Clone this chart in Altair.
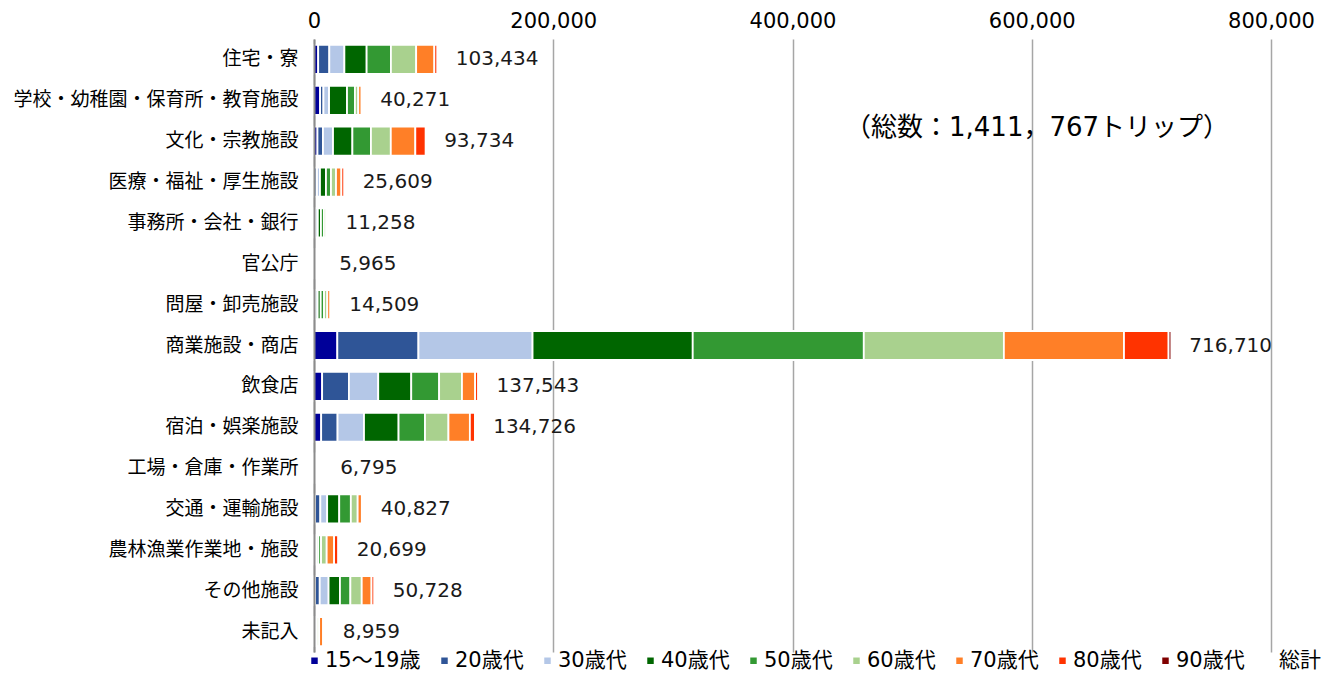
import altair as alt
import pandas as pd

categories = [
    "住宅・寮", "学校・幼稚園・保育所・教育施設", "文化・宗教施設", "医療・福祉・厚生施設",
    "事務所・会社・銀行", "官公庁", "問屋・卸売施設", "商業施設・商店", "飲食店",
    "宿泊・娯楽施設", "工場・倉庫・作業所", "交通・運輸施設", "農林漁業作業地・施設",
    "その他施設", "未記入",
]
age_groups = ["15～19歳", "20歳代", "30歳代", "40歳代", "50歳代", "60歳代", "70歳代", "80歳代", "90歳代"]

s15 = [3500, 5100, 2900, 500, 200, 200, 300, 19500, 6800, 6000, 100, 900, 200, 900, 100]
s20 = [9300, 2800, 4600, 2000, 1200, 500, 1000, 67800, 22400, 13700, 700, 4400, 700, 3900, 300]
s30 = [12600, 4700, 8400, 2500, 1800, 700, 1800, 95400, 24500, 22100, 1000, 5700, 1100, 7400, 400]
s40 = [18600, 15000, 16200, 5000, 2600, 1100, 2500, 133900, 27600, 28900, 1500, 10100, 1600, 9500, 700]
s50 = [20300, 6600, 15500, 4200, 2500, 1200, 2800, 143000, 23300, 22100, 1500, 9700, 2300, 8700, 1000]
s60 = [21100, 2800, 16600, 4200, 1900, 1000, 2700, 117100, 19100, 19600, 1100, 5700, 4700, 9500, 1800]
s70 = [15200, 2800, 20500, 4500, 800, 900, 2600, 100400, 11000, 17900, 650, 3500, 6200, 8200, 3300]
s80 = [2600, 400, 8700, 2500, 200, 300, 700, 37300, 2543, 4300, 200, 800, 3500, 2400, 1200]
s90 = [234, 71, 334, 209, 58, 65, 109, 2310, 300, 126, 45, 27, 399, 228, 159]
series = [s15, s20, s30, s40, s50, s60, s70, s80, s90]

totals = [103434, 40271, 93734, 25609, 11258, 5965, 14509, 716710, 137543, 134726, 6795, 40827, 20699, 50728, 8959]
x_ticks = [0, 200000, 400000, 600000, 800000]
note_text = ["（総数：1,411，767トリップ）"]

colors = ["#000099", "#2F5597", "#B4C7E7", "#006600", "#339933", "#A9D18E", "#FF7F27", "#FF3300", "#800000"]

rows = []
for gi, (g, vals) in enumerate(zip(age_groups, series)):
    for c, v in zip(categories, vals):
        rows.append({"施設": c, "年齢": g, "順": gi, "トリップ数": v})
df = pd.DataFrame(rows)
tot_df = pd.DataFrame({"施設": categories, "総計": totals})
note_df = pd.DataFrame({"t": note_text})

FONT = "DejaVu Sans, Noto Sans CJK JP"

x_scale = alt.Scale(domain=[0, 800000], nice=False)
x_axis = alt.Axis(orient="top", values=x_ticks, labelExpr="format(datum.value, ',')",
                  ticks=False, domain=False, labelFlush=False,
                  labelFontSize=21, labelFont=FONT, labelColor="#000", labelPadding=8,
                  gridColor="#a6a6a6", gridWidth=1.5, title=None)
y_enc = alt.Y("施設:N", sort=categories, title=None,
              scale=alt.Scale(paddingInner=0.29, paddingOuter=0.145),
              axis=alt.Axis(labelFontSize=19, labelFont=FONT, labelColor="#000", ticks=False,
                            labelPadding=16, labelLimit=400, domainColor="#8c8c8c",
                            domainWidth=2, grid=False, zindex=1))

bars = alt.Chart(df).mark_bar(stroke="white", strokeWidth=1.8).encode(
    x=alt.X("トリップ数:Q", stack="zero", scale=x_scale, axis=x_axis),
    y=y_enc,
    color=alt.Color("年齢:N",
                    scale=alt.Scale(domain=age_groups + ["総計"], range=colors + ["rgba(0,0,0,0)"]),
                    legend=alt.Legend(title=None, orient="none", legendX=-10, legendY=611,
                                      direction="horizontal", columns=10, symbolType="square",
                                      symbolSize=42, symbolStrokeWidth=0, labelFontSize=21,
                                      labelFont=FONT, labelColor="#000", columnPadding=13,
                                      labelOffset=0, labelLimit=300)),
    order=alt.Order("順:Q", sort="ascending"),
)

labels = alt.Chart(tot_df).mark_text(align="left", baseline="middle", dx=18, fontSize=20,
                                     font=FONT, color="#1a1a1a").encode(
    x=alt.X("総計:Q", scale=x_scale, axis=x_axis),
    y=y_enc,
    text=alt.Text("総計:Q", format=","),
)

note = alt.Chart(note_df).mark_text(align="left", baseline="middle", fontSize=26,
                                    font=FONT, color="#000").encode(
    x=alt.value(531), y=alt.value(89), text="t:N"
)

chart = alt.layer(bars, labels, note).properties(
    width=957, height=613,
    autosize=alt.AutoSizeParams(type="none"),
    padding={"left": 306, "top": 31, "right": 50, "bottom": 25},
).configure_view(stroke=None)

chart.save("out.html", embed_options={"renderer": "svg", "actions": False})
